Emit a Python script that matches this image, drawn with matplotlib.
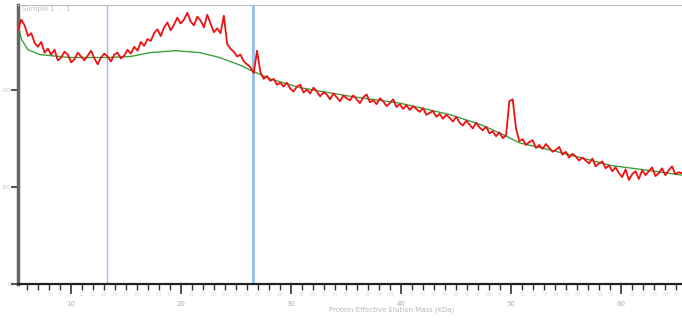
import numpy as np
import matplotlib
matplotlib.use("Agg")
import matplotlib.pyplot as plt
from matplotlib.ticker import MultipleLocator, FixedLocator, FuncFormatter

# Measured signal (red), sampled evenly across the elution range
x_start, x_stop = 5.2, 65.5
signal = [
    262, 272, 266, 255, 258, 248, 244, 249, 238, 242,
    236, 241, 230, 233, 239, 236, 228, 231, 238, 234,
    230, 235, 240, 232, 226, 233, 237, 234, 229, 236,
    238, 232, 235, 241, 237, 244, 240, 249, 245, 252,
    250, 258, 262, 255, 264, 269, 261, 267, 274, 268,
    272, 279, 270, 266, 275, 271, 264, 277, 268, 259,
    263, 258, 276, 247, 242, 239, 234, 236, 229, 226,
    223, 217, 240, 218, 211, 214, 209, 211, 205, 207,
    203, 207, 201, 198, 203, 205, 197, 200, 196, 202,
    198, 193, 197, 195, 190, 196, 192, 188, 194, 191,
    189, 194, 190, 186, 192, 195, 187, 189, 185, 191,
    188, 183, 186, 190, 182, 185, 180, 184, 179, 183,
    180, 177, 181, 174, 176, 178, 172, 175, 170, 174,
    171, 167, 172, 166, 163, 168, 164, 160, 166, 161,
    158, 162, 155, 157, 152, 156, 150, 153, 188, 190,
    160, 147, 149, 143, 146, 148, 140, 143, 139, 144,
    140, 136, 138, 141, 133, 136, 130, 134, 131, 127,
    130, 127, 124, 129, 121, 124, 126, 119, 122, 116,
    120, 114, 110, 118, 107, 113, 116, 108, 117, 112,
    116, 120, 111, 114, 119, 112, 117, 121, 113, 115,
    114,
]
signal_x = np.linspace(x_start, x_stop, len(signal))

# Fitted baseline (green)
baseline_x = [5.2, 5.5, 6.1, 7.2, 9.9, 13.3, 15.4, 17.2, 19.5, 21.7, 23.5,
              25.4, 26.5, 28.1, 30.8, 35.4, 39.9, 44.5, 47.2, 49.0, 50.8,
              53.5, 56.3, 59.0, 61.7, 65.5]
baseline_y = [267, 252, 241, 236, 233, 233, 234, 238, 240, 238, 233,
              225, 219, 211, 202, 193, 186, 174, 164, 155, 145,
              138, 130, 122, 118, 112]

# Integration window markers
window_edges = [13.3, 26.5]
window_widths = [1.0, 2.0]

x_major = [10, 20, 30, 40, 50, 60]
y_major = [0, 100, 200]

fig = plt.figure(figsize=(6.82, 3.2), dpi=100)
ax = fig.add_axes([18 / 682, 36 / 320, 664 / 682, 279 / 320])

ax.plot(baseline_x, baseline_y, color="#3f9e3f", lw=1.0, zorder=2)
ax.plot(signal_x, signal, color="#ee1111", lw=1.3, zorder=3)
for xe, w in zip(window_edges, window_widths):
    ax.axvline(xe, color="#8fbfee", lw=w, zorder=1)

ax.set_xlim(x_start, x_stop)
ax.set_ylim(0, 287)

ax.xaxis.set_major_locator(FixedLocator(x_major))
ax.xaxis.set_minor_locator(MultipleLocator(1))
ax.yaxis.set_major_locator(FixedLocator(y_major))
ax.xaxis.set_major_formatter(FuncFormatter(lambda v, p: f"{v:g}"))
ax.xaxis.set_minor_formatter(FuncFormatter(lambda v, p: f"{v:g}"))

ax.tick_params(axis="x", which="major", length=7, width=1.2, color="#333333",
               labelsize=5, labelcolor="#b0b0b0", pad=5)
ax.tick_params(axis="x", which="minor", length=4, width=1.0, color="#333333",
               labelsize=3.5, labelcolor="#dcdcdc", pad=2)
ax.tick_params(axis="y", which="major", length=5, width=1.5, color="#555555",
               labelsize=3.4, labelcolor="#c8c8c8", pad=0.5)

ax.spines["right"].set_visible(False)
ax.spines["top"].set_color("#bbbbbb")
ax.spines["top"].set_linewidth(0.8)
ax.spines["left"].set_color("#666666")
ax.spines["left"].set_linewidth(2.5)
ax.spines["bottom"].set_color("#222222")
ax.spines["bottom"].set_linewidth(1.6)

ax.text(0.006, 0.997, "Sample 1  ·  1", transform=ax.transAxes, fontsize=5,
        color="#c0c0c0", va="top", ha="left")
fig.text(392 / 682, 10 / 320, "Protein Effective Elution Mass (kDa)",
         fontsize=5, color="#b8b8b8", ha="center", va="center")

fig.savefig("out.png", dpi=100)
